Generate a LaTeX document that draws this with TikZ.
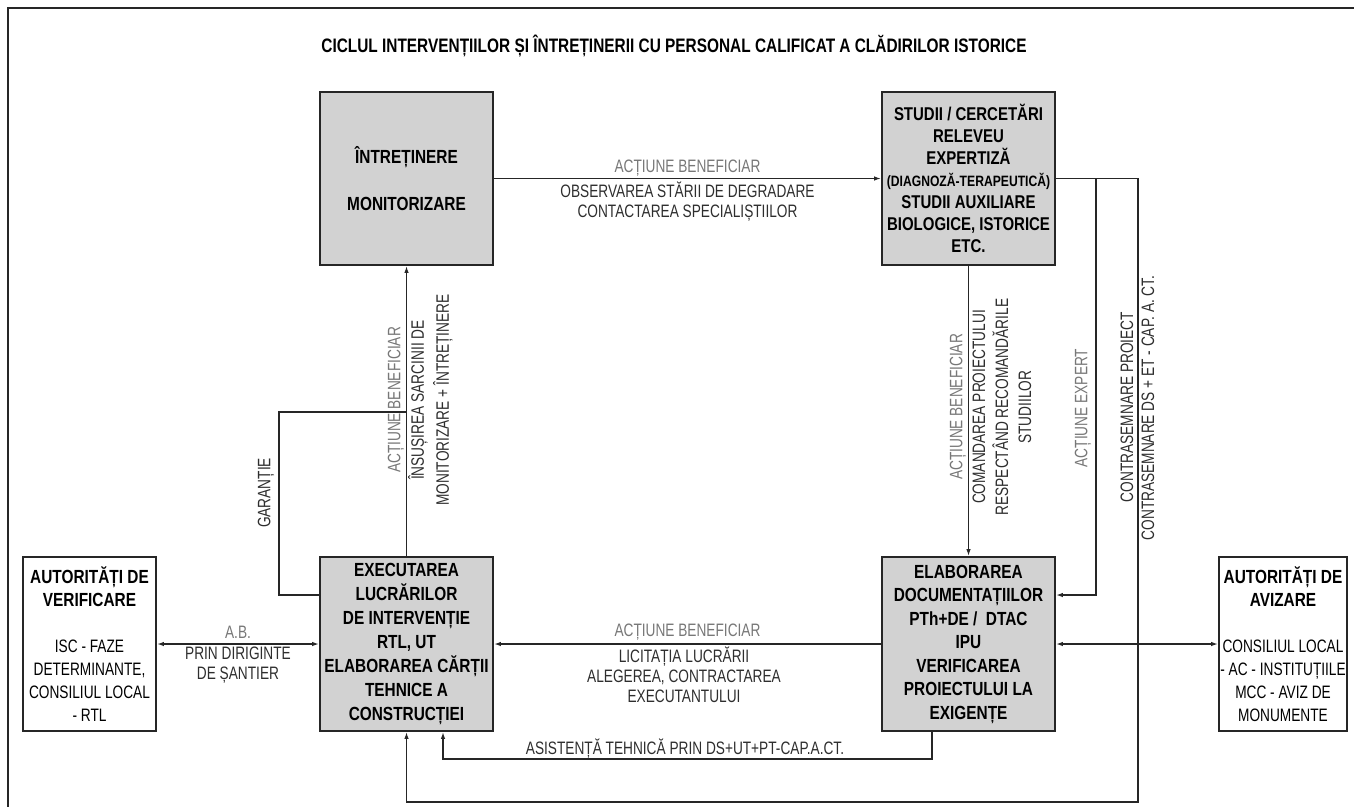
\documentclass[tikz,border=0pt]{standalone}
\usepackage{fontspec}
\setmainfont{Liberation Sans}
\newfontfamily\narrowfont[FakeStretch=0.81]{Liberation Sans}
\newfontfamily\slimfont[FakeStretch=0.76]{Liberation Sans}
\newfontfamily\titlefont[FakeStretch=0.79]{Liberation Sans}
\usetikzlibrary{positioning, arrows.meta, calc}

\definecolor{boxgray}{HTML}{D2D2D2}
\definecolor{linecol}{HTML}{262626}
\definecolor{txtdark}{HTML}{2E2E2E}
\definecolor{labgray}{HTML}{777777}

\begin{document}
\begin{tikzpicture}[x=1pt, y=-1pt, >={Latex[length=7pt,width=4.5pt]}, line width=1.4pt, draw=linecol,
  box/.style={draw=linecol, fill=boxgray, line width=1.8pt, inner sep=0pt, minimum width=173, minimum height=173, align=center, font=\narrowfont\bfseries\fontsize{19}{23.5}\selectfont},
  authbox/.style={draw=linecol, fill=white, line width=1.8pt, inner sep=0pt, minimum height=174, align=center, font=\slimfont\fontsize{18}{23}\selectfont},
  lab/.style={text=txtdark, inner sep=0pt, align=center, font=\slimfont\fontsize{18}{20}\selectfont},
  act/.style={lab, text=labgray}]
\useasboundingbox (0,0) rectangle (1354,807);

% Ramă și titlu
\draw[line width=2pt] (1354,8) -- (8,8) -- (8,807);
\node[font=\titlefont\bfseries\fontsize{19.5}{22}\selectfont, inner sep=0pt] (title) at (674,46) {CICLUL INTERVENȚIILOR ȘI ÎNTREȚINERII CU PERSONAL CALIFICAT A CLĂDIRILOR ISTORICE};

% Etapele ciclului
\node[box] (intr) at (406.5,178.5) {ÎNTREȚINERE\\[23.5pt]MONITORIZARE};
\node[box, font=\narrowfont\bfseries\fontsize{18.5}{22}\selectfont] (stud) at (968.5,178.5) {STUDII / CERCETĂRI\\RELEVEU\\EXPERTIZĂ\\{\fontsize{15}{22}\selectfont (DIAGNOZĂ-TERAPEUTICĂ)}\\STUDII AUXILIARE\\BIOLOGICE, ISTORICE\\ETC.};
\node[box, minimum height=174, font=\narrowfont\bfseries\fontsize{19}{24}\selectfont] (exec) at (406.5,644) {EXECUTAREA\\LUCRĂRILOR\\DE INTERVENȚIE\\RTL, UT\\ELABORAREA CĂRȚII\\TEHNICE A\\CONSTRUCȚIEI};
\node[box, minimum height=174] (elab) at (968.5,644) {ELABORAREA\\DOCUMENTAȚIILOR\\PTh+DE /~~DTAC\\IPU\\VERIFICAREA\\PROIECTULUI LA\\EXIGENȚE};

% Autorități
\node[authbox, minimum width=133] (verif) at (89.5,644) {{\narrowfont\bfseries\fontsize{19}{23}\selectfont AUTORITĂȚI DE}\\{\narrowfont\bfseries\fontsize{19}{23}\selectfont VERIFICARE}\\[23pt]ISC - FAZE\\DETERMINANTE,\\CONSILIUL LOCAL\\- RTL};
\node[authbox, minimum width=128] (aviz) at (1283,644) {{\narrowfont\bfseries\fontsize{19}{23}\selectfont AUTORITĂȚI DE}\\{\narrowfont\bfseries\fontsize{19}{23}\selectfont AVIZARE}\\[23pt]CONSILIUL LOCAL\\- AC - INSTITUȚIILE\\MCC - AVIZ DE\\MONUMENTE};

% Legături directe
\draw[->] (intr.east) -- (stud.west);
\draw[->] (stud.south) -- (elab.north);
\draw[->] (exec.north) -- (intr.south);
\draw[->] (elab.west) -- (exec.east);
\draw[<->] (verif.east) -- (exec.west);
\draw[<->] (elab.east) -- (aviz.west);

% Acțiune expert
\coordinate (expert) at (1096,595);
\draw[->] (stud.east) -| (expert) -- (expert -| elab.east);
% Contrasemnare
\coordinate (contra) at (1138,802);
\draw[->] (stud.east) -| (contra) -| (exec.south);
% Asistență tehnică
\coordinate (asist) at (932,759);
\draw[->] (asist |- elab.south) -- (asist) -| ($(exec.south)+(36.5,0)$);
% Garanție
\coordinate (gar) at (279,412);
\draw ($(exec.west)+(0,-49)$) -| (gar) -- (gar -| exec.north);

% Etichete
\node[act] (t1) at (687.5,168) {ACȚIUNE BENEFICIAR};
\node[lab] (t2) at (687.5,202) {OBSERVAREA STĂRII DE DEGRADARE\\CONTACTAREA SPECIALIȘTIILOR};
\node[act, rotate=90] (l1) at (396,400) {ACȚIUNE BENEFICIAR};
\node[lab, rotate=90, font=\slimfont\fontsize{18}{25}\selectfont] (l2) at (430.5,400) {ÎNSUȘIREA SARCINII DE\\MONITORIZARE + ÎNTREȚINERE};
\node[lab, rotate=90] (g1) at (266,493) {GARANȚIE};
\node[act, rotate=90] (r1) at (958,407) {ACȚIUNE BENEFICIAR};
\node[lab, rotate=90, font=\slimfont\fontsize{18}{23}\selectfont] (r2) at (1002,407) {COMANDAREA PROIECTULUI\\RESPECTÂND RECOMANDĂRILE\\STUDIILOR};
\node[act, rotate=90] (r3) at (1083,408) {ACȚIUNE EXPERT};
\node[lab, rotate=90] (r4) at (1127,407) {CONTRASEMNARE PROIECT};
\node[lab, rotate=90] (r5) at (1148,408) {CONTRASEMNARE DS + ET - CAP. A. CT.};
\node[act] (b1) at (687.5,632) {ACȚIUNE BENEFICIAR};
\node[lab] (b2) at (684,675) {LICITAȚIA LUCRĂRII\\ALEGEREA, CONTRACTAREA\\EXECUTANTULUI};
\node[act] (v1) at (238,632) {A.B.};
\node[lab] (v2) at (238,665) {PRIN DIRIGINTE\\DE ȘANTIER};
\node[lab] (as) at (685,749) {ASISTENȚĂ TEHNICĂ PRIN DS+UT+PT-CAP.A.CT.};

\end{tikzpicture}
\end{document}
